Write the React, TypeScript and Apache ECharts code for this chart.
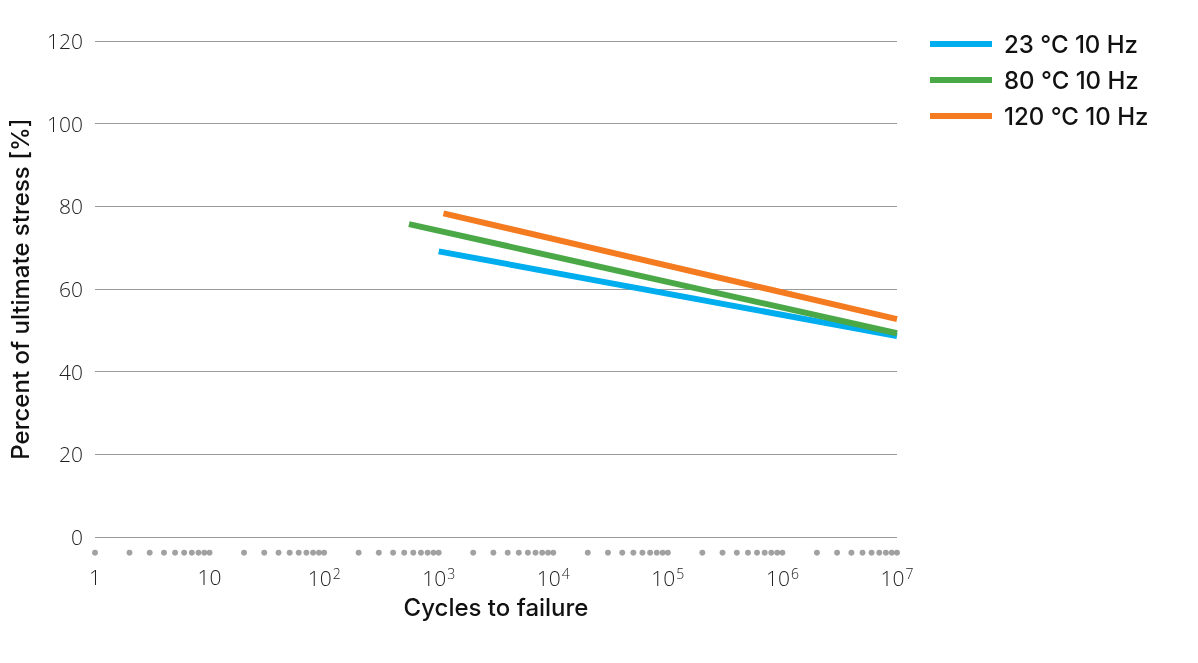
import React, { useEffect, useRef } from "react";
import * as echarts from "echarts";

const seriesNames = ["23 °C 10 Hz", "80 °C 10 Hz", "120 °C 10 Hz"];
const seriesColors = ["#00AEEF", "#4BA847", "#F47B20"];
const blueLine: [number, number][] = [[1000, 69.1], [1e7, 48.6]];
const greenLine: [number, number][] = [[550, 75.7], [1e7, 49.3]];
const orangeLine: [number, number][] = [[1100, 78.3], [1e7, 52.7]];
const yTicks = [0, 20, 40, 60, 80, 100, 120];
const decades = [1, 10, 100, 1000, 10000, 100000, 1000000];
const mantissas = [1, 2, 3, 4, 5, 6, 7, 8, 9];
const supDigits: Record<number, string> = { 2: "2", 3: "3", 4: "4", 5: "5", 6: "6", 7: "7" };

export default function App() {
  const ref = useRef<HTMLDivElement>(null);
  useEffect(() => {
    if (!ref.current) return;
    const chart = echarts.init(ref.current, null, { renderer: "svg" });
    const dotPositions: [number, number][] = [];
    decades.forEach((d) => mantissas.forEach((m) => dotPositions.push([d * m, -3.8])));
    dotPositions.push([1e7, -3.8]);
    const lines = [blueLine, greenLine, orangeLine];
    const tickFont = "'Open Sans', 'Liberation Sans', sans-serif";
    const nameFont = "Inter, 'Liberation Sans', sans-serif";
    chart.setOption({
      animation: false,
      textStyle: { fontFamily: tickFont },
      grid: { left: 92, right: 301, top: 41, bottom: 126 },
      legend: {
        orient: "vertical",
        left: 925,
        top: 27,
        itemWidth: 62,
        itemHeight: 6,
        itemGap: 12,
        icon: "rect",
        data: seriesNames,
        textStyle: { fontSize: 24, fontWeight: 500, color: "#111", fontFamily: nameFont, padding: [0, 0, 0, 7] },
      },
      xAxis: {
        type: "log",
        logBase: 10,
        min: 1,
        max: 1e7,
        name: "Cycles to failure",
        nameLocation: "middle",
        nameGap: 58,
        nameTextStyle: { fontSize: 24, fontWeight: 500, color: "#111", fontFamily: nameFont },
        axisLine: { show: false },
        axisTick: { show: false },
        splitLine: { show: false },
        axisLabel: {
          margin: 29,
          fontSize: 21,
          fontWeight: 300,
          color: "#222",
          fontFamily: tickFont,
          formatter: (v: number) => {
            const e = Math.round(Math.log10(v));
            if (e === 0) return "1";
            if (e === 1) return "10";
            return "10{sup|" + (supDigits[e] || String(e)) + "}";
          },
          rich: {
            sup: { fontSize: 14, fontWeight: 300, color: "#222", verticalAlign: "top", padding: [0, 0, 10, 1], fontFamily: tickFont },
          },
        },
      },
      yAxis: {
        type: "value",
        min: 0,
        max: 120,
        interval: 20,
        name: "Percent of ultimate stress [%]",
        nameLocation: "middle",
        nameGap: 63,
        nameTextStyle: { fontSize: 24, fontWeight: 500, color: "#111", fontFamily: nameFont },
        axisLine: { show: false },
        axisTick: { show: false },
        splitLine: { lineStyle: { color: "#9a9a9a", width: 1 } },
        axisLabel: {
          margin: 12,
          fontSize: 21,
          fontWeight: 300,
          color: "#222",
          fontFamily: tickFont,
          formatter: (v: number) => (yTicks.includes(v) ? String(v) : ""),
        },
      },
      series: [
        ...lines.map((d, i) => ({
          name: seriesNames[i],
          type: "line",
          data: d,
          symbol: "none",
          lineStyle: { width: 6, color: seriesColors[i], cap: "butt" },
          itemStyle: { color: seriesColors[i] },
          z: 3 + i,
        })),
        {
          type: "scatter",
          data: dotPositions,
          symbolSize: 6,
          clip: false,
          silent: true,
          itemStyle: { color: "#8a8a8a" },
          z: 2,
        },
      ],
    });
    return () => chart.dispose();
  }, []);
  return <div ref={ref} style={{ position: "fixed", left: 0, top: 0, width: 1198, height: 663 }} />;
}
